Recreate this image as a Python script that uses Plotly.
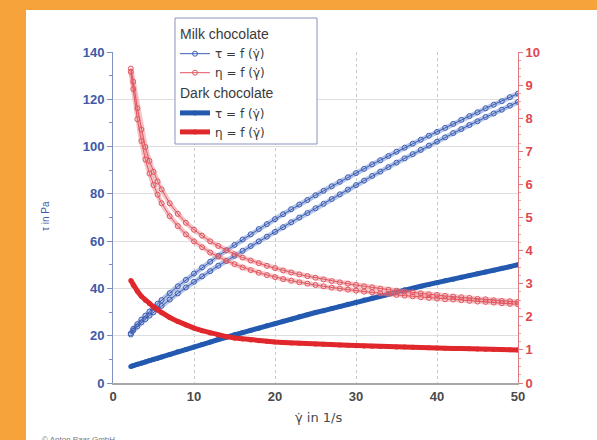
import plotly.graph_objects as go

# shear rate (1/s)
gamma = [2.2, 2.5, 3, 3.5, 4, 4.5, 5, 5.5, 6,
         7, 8, 9, 10, 11, 12, 13, 14, 15, 16, 17, 18, 19, 20,
         21, 22, 23, 24, 25, 26, 27, 28, 29, 30, 31, 32, 33, 34, 35,
         36, 37, 38, 39, 40, 41, 42, 43, 44, 45, 46, 47, 48, 49, 50]

# Milk chocolate shear stress (Pa), up and down curve
milk_tau_up = [21.0, 22.9, 24.9, 26.8, 28.5, 30.2, 31.9, 33.5, 35.1,
               38.0, 40.9, 43.6, 46.3, 48.9, 51.3, 53.8, 56.1, 58.4, 60.7, 62.9, 65.1, 67.2, 69.3,
               71.4, 73.5, 75.5, 77.4, 79.4, 81.3, 83.2, 85.1, 87.0, 88.8, 90.6, 92.5, 94.2, 96.0, 97.8,
               99.5, 101.2, 102.9, 104.6, 106.2, 107.9, 109.6, 111.3, 112.9, 114.5, 116.2, 117.7, 119.2, 120.9, 122.4]
milk_tau_down = [20.5, 22.2, 23.9, 25.6, 27.0, 28.5, 29.9, 31.3, 32.6,
                 35.3, 37.9, 40.4, 42.8, 45.1, 47.3, 49.6, 51.6, 53.8, 55.9, 57.9, 59.9, 61.9, 63.9,
                 65.9, 68.0, 70.0, 71.9, 73.9, 75.8, 77.8, 79.8, 81.8, 83.7, 85.6, 87.6, 89.4, 91.3, 93.2,
                 95.0, 96.8, 98.6, 100.4, 102.1, 103.9, 105.7, 107.4, 109.1, 110.7, 112.5, 114.0, 115.6, 117.3, 118.9]

# Milk chocolate viscosity (Pa·s)
milk_eta_up = [9.5, 9.1, 8.3, 7.66, 7.13, 6.71, 6.38, 6.09, 5.85,
               5.43, 5.11, 4.84, 4.63, 4.45, 4.28, 4.14, 4.01, 3.89, 3.79, 3.70, 3.62, 3.54, 3.47,
               3.40, 3.34, 3.28, 3.23, 3.18, 3.13, 3.08, 3.04, 3.00, 2.96, 2.92, 2.89, 2.85, 2.82, 2.79,
               2.76, 2.74, 2.71, 2.68, 2.66, 2.63, 2.61, 2.59, 2.57, 2.54, 2.53, 2.50, 2.48, 2.47, 2.45]
milk_eta_down = [9.4, 8.88, 7.97, 7.31, 6.75, 6.33, 5.98, 5.69, 5.43,
                 5.04, 4.74, 4.49, 4.28, 4.10, 3.94, 3.82, 3.69, 3.59, 3.49, 3.41, 3.33, 3.26, 3.20,
                 3.14, 3.09, 3.04, 3.00, 2.96, 2.92, 2.88, 2.85, 2.82, 2.79, 2.76, 2.74, 2.71, 2.69, 2.66,
                 2.64, 2.62, 2.59, 2.57, 2.55, 2.53, 2.52, 2.50, 2.48, 2.46, 2.45, 2.43, 2.41, 2.39, 2.38]

# Dark chocolate
dark_tau = [7.0, 7.3, 7.9, 8.4, 8.9, 9.5, 10.0, 10.5, 11.0,
            12.1, 13.2, 14.2, 15.2, 16.3, 17.3, 18.4, 19.5, 20.4, 21.4, 22.3, 23.2, 24.2, 25.1,
            26.1, 27.0, 28.0, 28.9, 29.8, 30.6, 31.5, 32.4, 33.3, 34.2, 35.1, 36.0, 36.9, 37.8, 38.6,
            39.4, 40.1, 40.9, 41.7, 42.4, 43.2, 43.9, 44.7, 45.5, 46.2, 47.0, 47.7, 48.5, 49.2, 50.0]
dark_eta = [3.1, 2.95, 2.78, 2.62, 2.5, 2.4, 2.3, 2.21, 2.12,
            1.98, 1.86, 1.75, 1.66, 1.58, 1.51, 1.45, 1.40, 1.36, 1.33, 1.30, 1.28, 1.26, 1.24,
            1.225, 1.21, 1.20, 1.19, 1.18, 1.17, 1.16, 1.15, 1.14, 1.13, 1.12, 1.11, 1.105, 1.10, 1.09,
            1.085, 1.08, 1.07, 1.065, 1.06, 1.05, 1.045, 1.04, 1.035, 1.03, 1.02, 1.015, 1.01, 1.005, 1.0]

x_ticks = [0, 10, 20, 30, 40, 50]
tau_ticks = [0, 20, 40, 60, 80, 100, 120, 140]
eta_ticks = [0, 1, 2, 3, 4, 5, 6, 7, 8, 9, 10]

BLUE = "#3d5fb3"
BLUE_BAND = "rgba(120,145,210,0.55)"
RED = "#e2555f"
RED_BAND = "rgba(235,140,145,0.5)"
DBLUE = "#2459b0"
DRED = "#e0282c"
ORANGE = "#f6a33c"
FONT = "Liberation Sans, Arial, DejaVu Sans, sans-serif"
LEGFONT = "DejaVu Sans, Liberation Sans, sans-serif"

W, H = 597, 440
L, R, T, B = 113, 79, 52, 57
PW, PH = W - L - R, H - T - B


def px_x(p):
    return (p - L) / PW


def px_y(p):
    return (H - B - p) / PH


fig = go.Figure()

# Milk chocolate bands (no legend)
for ys, col, ax in [(milk_tau_up, BLUE_BAND, "y"), (milk_tau_down, BLUE_BAND, "y"),
                    (milk_eta_up, RED_BAND, "y2"), (milk_eta_down, RED_BAND, "y2")]:
    fig.add_trace(go.Scatter(x=gamma, y=ys, yaxis=ax, mode="lines",
                             line=dict(color=col, width=5), showlegend=False,
                             hoverinfo="skip"))

# Milk chocolate markers
fig.add_trace(go.Scatter(x=gamma, y=milk_tau_up, mode="lines+markers", name="τ = f (γ̇)",
                         legendgroup="milk",
                         legendgrouptitle=dict(text="Milk chocolate"),
                         line=dict(color=BLUE, width=1),
                         marker=dict(symbol="circle-open", size=5, color=BLUE, line=dict(width=1))))
fig.add_trace(go.Scatter(x=gamma, y=milk_tau_down, mode="lines+markers", name="τ = f (γ̇)",
                         legendgroup="milk", showlegend=False,
                         line=dict(color=BLUE, width=1),
                         marker=dict(symbol="circle-open", size=5, color=BLUE, line=dict(width=1))))
fig.add_trace(go.Scatter(x=gamma, y=milk_eta_up, yaxis="y2", mode="lines+markers", name="η = f (γ̇)",
                         legendgroup="milk",
                         line=dict(color=RED, width=1),
                         marker=dict(symbol="circle-open", size=5, color=RED, line=dict(width=1))))
fig.add_trace(go.Scatter(x=gamma, y=milk_eta_down, yaxis="y2", mode="lines+markers", name="η = f (γ̇)",
                         legendgroup="milk", showlegend=False,
                         line=dict(color=RED, width=1),
                         marker=dict(symbol="circle-open", size=5, color=RED, line=dict(width=1))))

# Dark chocolate
fig.add_trace(go.Scatter(x=gamma, y=dark_tau, mode="lines+markers", name="τ = f (γ̇)",
                         legendgroup="dark", legendgrouptitle=dict(text="Dark chocolate"),
                         line=dict(color=DBLUE, width=5),
                         marker=dict(symbol="circle", size=5, color=DBLUE)))
fig.add_trace(go.Scatter(x=gamma, y=dark_eta, yaxis="y2", mode="lines+markers", name="η = f (γ̇)",
                         legendgroup="dark",
                         line=dict(color=DRED, width=5),
                         marker=dict(symbol="circle", size=5, color=DRED)))

fig.update_layout(
    width=W, height=H, autosize=False,
    margin=dict(l=L, r=R, t=T, b=B, pad=0),
    paper_bgcolor=ORANGE, plot_bgcolor="white",
    font=dict(family=FONT, size=13, color="#444"),
    shapes=[
        dict(type="rect", xref="paper", yref="paper", layer="below",
             x0=px_x(26), x1=px_x(640), y0=px_y(10), y1=px_y(480),
             fillcolor="white", line=dict(width=0)),
        # legend frame
        dict(type="rect", xref="paper", yref="paper", layer="above",
             x0=px_x(175), x1=px_x(317), y0=px_y(18), y1=px_y(144),
             fillcolor="white", line=dict(width=1, color="#8a93c0")),
    ],
    xaxis=dict(range=[0, 50], tickvals=x_ticks, showgrid=True, gridcolor="#c8c8c8",
               griddash="dot", gridwidth=1, zeroline=False, showline=True,
               linecolor="#a8a8a8", linewidth=2, ticks="outside", ticklen=0,
               tickcolor="#a8a8a8",
               tickfont=dict(family=FONT, size=13, color="#4a4a4a", weight="bold")),
    yaxis=dict(range=[0, 140], tickvals=tau_ticks, showgrid=True, gridcolor="#dedede",
               zeroline=False, showline=True, linecolor="#7f90c4", linewidth=1,
               ticks="outside", ticklen=5, tickcolor="#7f90c4",
               minor=dict(dtick=10, ticks="outside", ticklen=3, tickcolor="#7f90c4", showgrid=False),
               tickfont=dict(family=FONT, size=13, color="#3d5aa8", weight="bold")),
    yaxis2=dict(range=[0, 10], tickvals=eta_ticks, overlaying="y", side="right",
                showgrid=False, zeroline=False, showline=True, linecolor="#e07a80", linewidth=1,
                ticks="outside", ticklen=4, tickcolor="#e07a80",
                minor=dict(dtick=0.25, ticks="outside", ticklen=2, tickcolor="#e9a0a4"),
                tickfont=dict(family=FONT, size=13, color="#e04650", weight="bold")),
    legend=dict(x=px_x(175), y=px_y(18), xanchor="left", yanchor="top",
                bgcolor="rgba(0,0,0,0)", borderwidth=0,
                font=dict(family=LEGFONT, size=12, color="#3a3a3a"), tracegroupgap=0,
                grouptitlefont=dict(family=FONT, size=14, color="#3a3a3a"),
                itemwidth=30),
    showlegend=True,
    annotations=[
        dict(text="τ in Pa", xref="paper", yref="paper", x=px_x(45), y=px_y(216),
             xanchor="center", yanchor="middle",
             showarrow=False, textangle=-90, font=dict(size=10, color="#3d5aa8")),
        dict(text="η in Pa·s", xref="paper", yref="paper", x=px_x(605), y=px_y(222),
             xanchor="center", yanchor="middle",
             showarrow=False, textangle=-90, font=dict(size=10, color="#e04650")),
        dict(text="γ̇ in 1/s", xref="paper", yref="paper", x=px_x(318), y=px_y(418),
             xanchor="center", yanchor="middle",
             showarrow=False, font=dict(family=LEGFONT, size=13, color="#4a4a4a")),
        dict(text="© Anton Paar GmbH", xref="paper", yref="paper", x=px_x(40), y=px_y(433),
             xanchor="left", yanchor="top", showarrow=False,
             font=dict(size=8, color="#777")),
    ],
)

fig.write_html("out.html", config={"displayModeBar": False},
               post_script="document.body.style.margin='0';document.body.style.padding='0';")
